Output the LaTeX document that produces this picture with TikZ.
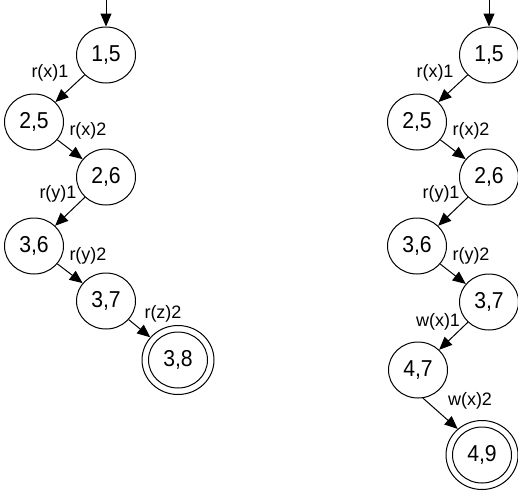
\documentclass[tikz,border=0pt]{standalone}
\usepackage{fontspec}
\setmainfont{Liberation Sans}
\newfontfamily\nodefont[FakeStretch=0.92]{Liberation Sans}
\usetikzlibrary{arrows.meta,shapes.geometric}
\begin{document}
\begin{tikzpicture}[x=1pt,y=-1pt,
  st/.style={draw, line width=1pt, ellipse, minimum width=59pt, minimum height=56pt, inner sep=0pt, font=\nodefont\fontsize{23}{25}\selectfont},
  outer/.style={draw, line width=1pt, ellipse, minimum width=72pt, minimum height=69pt, inner sep=0pt},
  lbl/.style={inner sep=0pt, font=\fontsize{18}{20}\selectfont},
  arr/.style={line width=1pt, -{Triangle[length=13pt,width=11pt]}}]
\useasboundingbox (0,0) rectangle (518,490);
% left automaton
\coordinate (as) at (106,0);
\node[st] (a15) at (106,55) {1,5};
\node[st] (a25) at (34,122) {2,5};
\node[st] (a26) at (106,177) {2,6};
\node[st] (a36) at (34,246) {3,6};
\node[st] (a37) at (106,301) {3,7};
\node[st] (a38) at (178,360) {3,8};
\node[outer] (a38o) at (178,360) {};
\draw[arr] (as) -- (a15);
\draw[arr] (a15) -- (a25);
\draw[arr] (a25) -- (a26);
\draw[arr] (a26) -- (a36);
\draw[arr] (a36) -- (a37);
\draw[arr] (a37) -- (a38o);
\node[lbl] (la1) at (50,73) {r(x)1};
\node[lbl] (la2) at (88,131) {r(x)2};
\node[lbl] (la3) at (58,194) {r(y)1};
\node[lbl] (la4) at (88,256) {r(y)2};
\node[lbl] (la5) at (163,314) {r(z)2};
% right automaton
\coordinate (bs) at (489,0);
\node[st] (b15) at (489,55) {1,5};
\node[st] (b25) at (417,122) {2,5};
\node[st] (b26) at (489,177) {2,6};
\node[st] (b36) at (417,246) {3,6};
\node[st] (b37) at (489,302) {3,7};
\node[st] (b47) at (418,370) {4,7};
\node[st] (b49) at (482,455) {4,9};
\node[outer] (b49o) at (482,455) {};
\draw[arr] (bs) -- (b15);
\draw[arr] (b15) -- (b25);
\draw[arr] (b25) -- (b26);
\draw[arr] (b26) -- (b36);
\draw[arr] (b36) -- (b37);
\draw[arr] (b37) -- (b47);
\draw[arr] (b47.-80) -- (b49o.133);
\node[lbl] (lb1) at (435,73) {r(x)1};
\node[lbl] (lb2) at (471,131) {r(x)2};
\node[lbl] (lb3) at (441,194) {r(y)1};
\node[lbl] (lb4) at (471,256) {r(y)2};
\node[lbl] (lb5) at (438,322) {w(x)1};
\node[lbl] (lb6) at (470,401) {w(x)2};
\end{tikzpicture}
\end{document}
